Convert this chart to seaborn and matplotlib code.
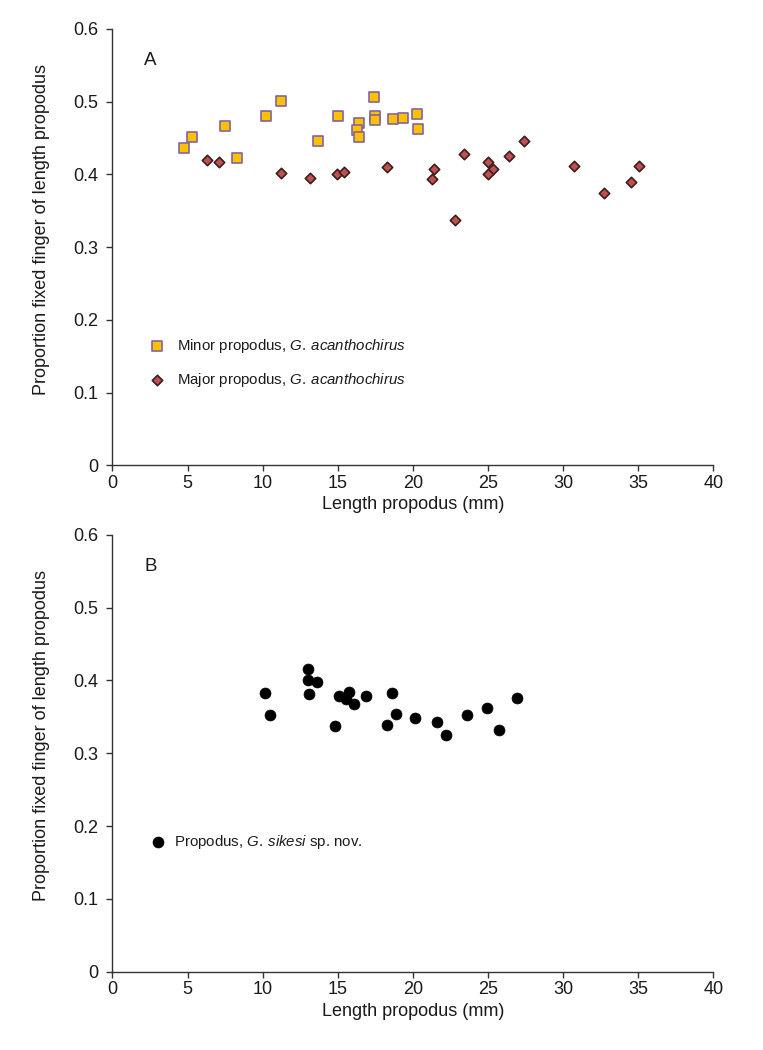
import matplotlib
matplotlib.use("Agg")
import matplotlib.pyplot as plt
import seaborn as sns
import pandas as pd

# ---------------- data ----------------
minor_x = [4.78, 5.29, 7.47, 8.27, 10.20, 11.20, 13.70, 14.99, 16.39, 16.30, 16.39,
           17.41, 17.50, 17.50, 18.70, 19.32, 20.25, 20.36]
minor_y = [0.436, 0.452, 0.467, 0.422, 0.481, 0.501, 0.446, 0.481, 0.471, 0.461, 0.452,
           0.507, 0.481, 0.475, 0.476, 0.477, 0.483, 0.462]

major_x = [6.27, 7.09, 11.20, 13.17, 14.97, 15.43, 18.30, 21.40, 21.29, 23.40, 22.80,
           25.02, 25.35, 25.02, 26.42, 27.42, 30.73, 32.72, 34.54, 35.03]
major_y = [0.420, 0.417, 0.402, 0.395, 0.400, 0.403, 0.410, 0.407, 0.394, 0.428, 0.338,
           0.417, 0.407, 0.400, 0.425, 0.446, 0.411, 0.374, 0.389, 0.412]

sikesi_x = [10.17, 10.51, 13.02, 13.00, 13.62, 13.08, 14.81, 15.08, 15.72, 15.52, 16.10,
            16.90, 18.61, 18.30, 18.90, 20.12, 21.60, 22.22, 23.62, 24.93, 25.71, 26.91]
sikesi_y = [0.383, 0.353, 0.416, 0.400, 0.398, 0.382, 0.338, 0.378, 0.384, 0.375, 0.367,
            0.379, 0.383, 0.339, 0.354, 0.349, 0.343, 0.325, 0.352, 0.362, 0.332, 0.376]

x_ticks = [0, 5, 10, 15, 20, 25, 30, 35, 40]
y_ticks = [0, 0.1, 0.2, 0.3, 0.4, 0.5, 0.6]
y_ticklabels = ["0", "0.1", "0.2", "0.3", "0.4", "0.5", "0.6"]

label_minor = r"Minor propodus, $\mathit{G.\:acanthochirus}$"
label_major = r"Major propodus, $\mathit{G.\:acanthochirus}$"
label_sikesi = r"Propodus, $\mathit{G.\:sikesi}$ sp. nov."

xlabel = "Length propodus (mm)"
ylabel = "Proportion fixed finger of length propodus"

# ---------------- style ----------------
sns.set_theme(style="ticks")
plt.rcParams["font.family"] = ["Liberation Sans", "DejaVu Sans"]
plt.rcParams["mathtext.fontset"] = "custom"
plt.rcParams["mathtext.rm"] = "Liberation Sans"
plt.rcParams["mathtext.it"] = "Liberation Sans:italic"
plt.rcParams["mathtext.bf"] = "Liberation Sans:bold"

fig = plt.figure(figsize=(7.63, 10.5), dpi=100)
axA = fig.add_axes([0.1474, 0.5567, 0.7874, 0.4157])
axB = fig.add_axes([0.1474, 0.0746, 0.7874, 0.4160])

dfMinor = pd.DataFrame({"x": minor_x, "y": minor_y})
dfMajor = pd.DataFrame({"x": major_x, "y": major_y})
dfSik = pd.DataFrame({"x": sikesi_x, "y": sikesi_y})

sns.scatterplot(data=dfMinor, x="x", y="y", ax=axA, marker="s", s=46,
                color="#FFC000", edgecolor="#8264A0", linewidth=1.2, label=label_minor, zorder=3)
sns.scatterplot(data=dfMajor, x="x", y="y", ax=axA, marker="D", s=28,
                color="#C0504D", edgecolor="#3A1E1E", linewidth=1.2, label=label_major, zorder=3)
sns.scatterplot(data=dfSik, x="x", y="y", ax=axB, marker="o", s=62,
                color="black", edgecolor="black", linewidth=0.5, label=label_sikesi, zorder=3)

for ax, letter in [(axA, "A"), (axB, "B")]:
    ax.set_xlim(0, 40)
    ax.set_ylim(0, 0.6)
    ax.set_xticks(x_ticks)
    ax.set_xticklabels([str(t) for t in x_ticks])
    ax.set_yticks(y_ticks)
    ax.set_yticklabels(y_ticklabels)
    ax.tick_params(axis="both", labelsize=13, length=4.5, width=1, color="#333333",
                   labelcolor="#1a1a1a", direction="out")
    ax.tick_params(axis="x", pad=2.5)
    ax.tick_params(axis="y", pad=5.5)
    for sp in ["top", "right"]:
        ax.spines[sp].set_visible(False)
    for sp in ["left", "bottom"]:
        ax.spines[sp].set_color("#333333")
        ax.spines[sp].set_linewidth(1.0)
    ax.set_xlabel(xlabel, fontsize=13, color="#1a1a1a", labelpad=3)
    ax.set_ylabel(ylabel, fontsize=13, color="#1a1a1a")
    ax.yaxis.set_label_coords(-0.104, 0.54)
    ax.text(0.063, 0.928, letter, transform=ax.transAxes, fontsize=13.5,
            ha="center", va="center", color="#1a1a1a")
    ax.set_facecolor("white")

legA = axA.legend(loc="center left", bbox_to_anchor=(0.062, 0.235), frameon=False,
                  fontsize=10.8, handlelength=1.0, handletextpad=0.8, borderpad=0,
                  borderaxespad=0, labelspacing=1.05)
legB = axB.legend(loc="center left", bbox_to_anchor=(0.064, 0.298), frameon=False,
                  fontsize=10.8, handlelength=1.0, handletextpad=0.57, borderpad=0,
                  borderaxespad=0)
for leg in (legA, legB):
    for t in leg.get_texts():
        t.set_color("#1a1a1a")

fig.savefig("out.png", dpi=100, facecolor="white")
